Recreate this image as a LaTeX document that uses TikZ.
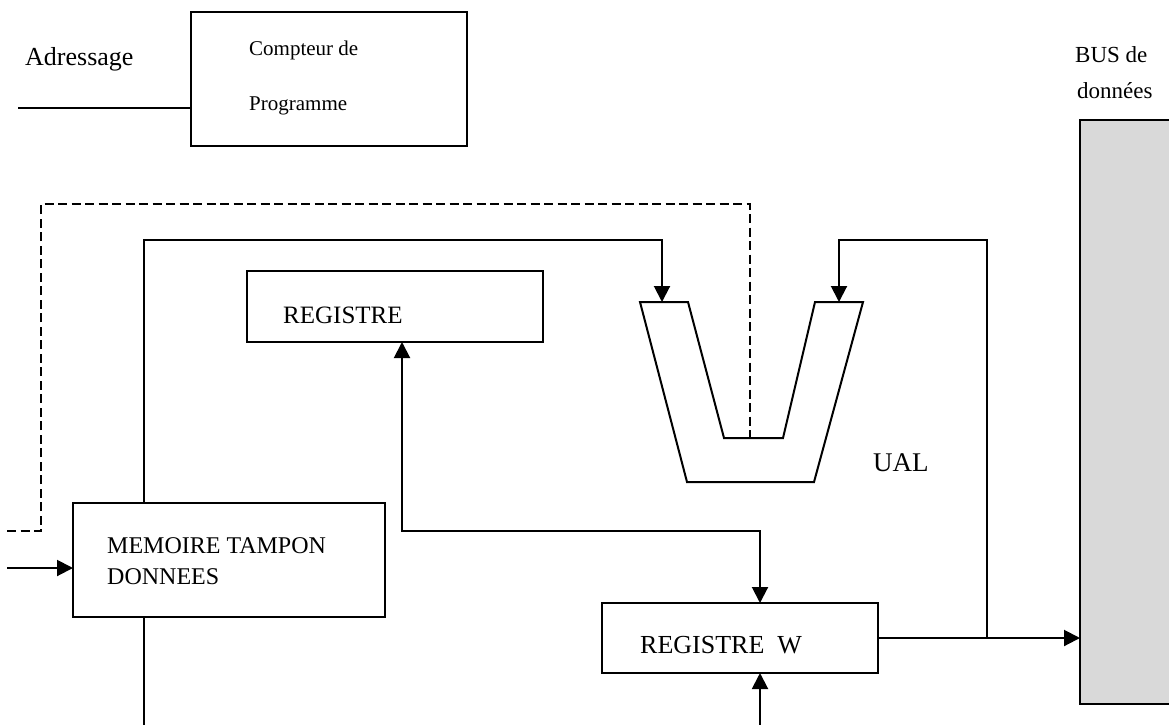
\documentclass[tikz,border=0pt]{standalone}
\usepackage{fontspec}
\setmainfont{Liberation Serif}
\usetikzlibrary{arrows.meta}

\definecolor{busgray}{HTML}{D9D9D9}

\tikzset{
  box/.style={draw, line width=2pt, inner sep=0pt, outer sep=0pt, anchor=north west},
  lbl/.style={inner sep=0pt, anchor=base west},
  wire/.style={line width=2pt},
  tip/.style={},
  arr/.style={wire, -{Triangle[length=16pt,width=16pt]}},
  arrback/.style={wire, {Triangle[length=16pt,width=16pt]}-},
  arrboth/.style={wire, {Triangle[length=16pt,width=16pt]}-{Triangle[length=16pt,width=16pt]}},
  ctrl/.style={line width=2.6pt, dash pattern=on 9pt off 4.5pt},
}
\newcommand{\fs}[1]{\fontsize{#1pt}{#1pt}\selectfont}

\begin{document}
\begin{tikzpicture}[x=1pt, y=-1pt, line join=miter]
\useasboundingbox (0,0) rectangle (1169,724);
\clip (0,0) rectangle (1169,724);

% program counter and address line
\node[box, minimum width=276pt, minimum height=134pt] (cp) at (191,12) {};
\node[lbl] (cpa) at (249,55) {\fs{21}Compteur de};
\node[lbl] (cpb) at (249,110) {\fs{21}Programme};
\node[lbl] (adrtxt) at (25,65) {\fs{26}Adressage};
\coordinate (adr) at (18,108);
\draw[wire] (adr) -- (adr -| cp.west);

% data bus
\node[box, fill=busgray, minimum width=110pt, minimum height=584pt] (bus) at (1080,120) {};
\node[lbl] (busa) at (1075,62) {\fs{23}BUS de};
\node[lbl] (busb) at (1077,98) {\fs{23}données};

% registers and buffer
\node[box, minimum width=296pt, minimum height=71pt] (reg) at (247,271) {};
\node[lbl] (regtxt) at (283,323) {\fs{25}REGISTRE};
\node[box, minimum width=276pt, minimum height=70pt] (regw) at (602,603) {};
\node[lbl] (regwtxt) at (640,653) {\fs{26}REGISTRE~ W};
\node[box, minimum width=312pt, minimum height=114pt] (mem) at (73,503) {};
\node[lbl] (mema) at (107,553) {\fs{24}MEMOIRE TAMPON};
\node[lbl] (memb) at (107,584) {\fs{24}DONNEES};

% arithmetic and logic unit
\draw[wire] (640,302) -- (688,302) -- (724,438) -- (783,438) -- (815,302)
  -- (863,302) -- (814,482) -- (687,482) -- cycle;
\node[lbl] (ualtxt) at (873,471) {\fs{27}UAL};
\coordinate (ualL) at (662,302);
\coordinate (ualR) at (839,302);
\coordinate (ualB) at (750,438);

% data paths
\draw[arr] ([xshift=71pt]mem.north west) -- ++(0,-263) -| (ualL);
\draw[wire] ([xshift=71pt]mem.south west) -- ++(0,110);
\coordinate (tap) at ([xshift=109pt]regw.east);
\draw[arr] (regw.east) -- (regw.east -| bus.west);
\draw[arr] (tap) -- ++(0,-398) -| (ualR);
\draw[arrboth] ([xshift=7pt]reg.south) -- ++(0,189) -| ([xshift=20pt]regw.north);
\draw[arrback] ([xshift=20pt]regw.south) -- ++(0,60);
\coordinate (in) at (7,568);
\draw[arr] (in) -- (in -| mem.west);

% control line
\coordinate (ctl) at (7,531);
\draw[ctrl] (ctl) -- ++(34,0) -- ++(0,-327) -| (ualB);
\end{tikzpicture}
\end{document}
